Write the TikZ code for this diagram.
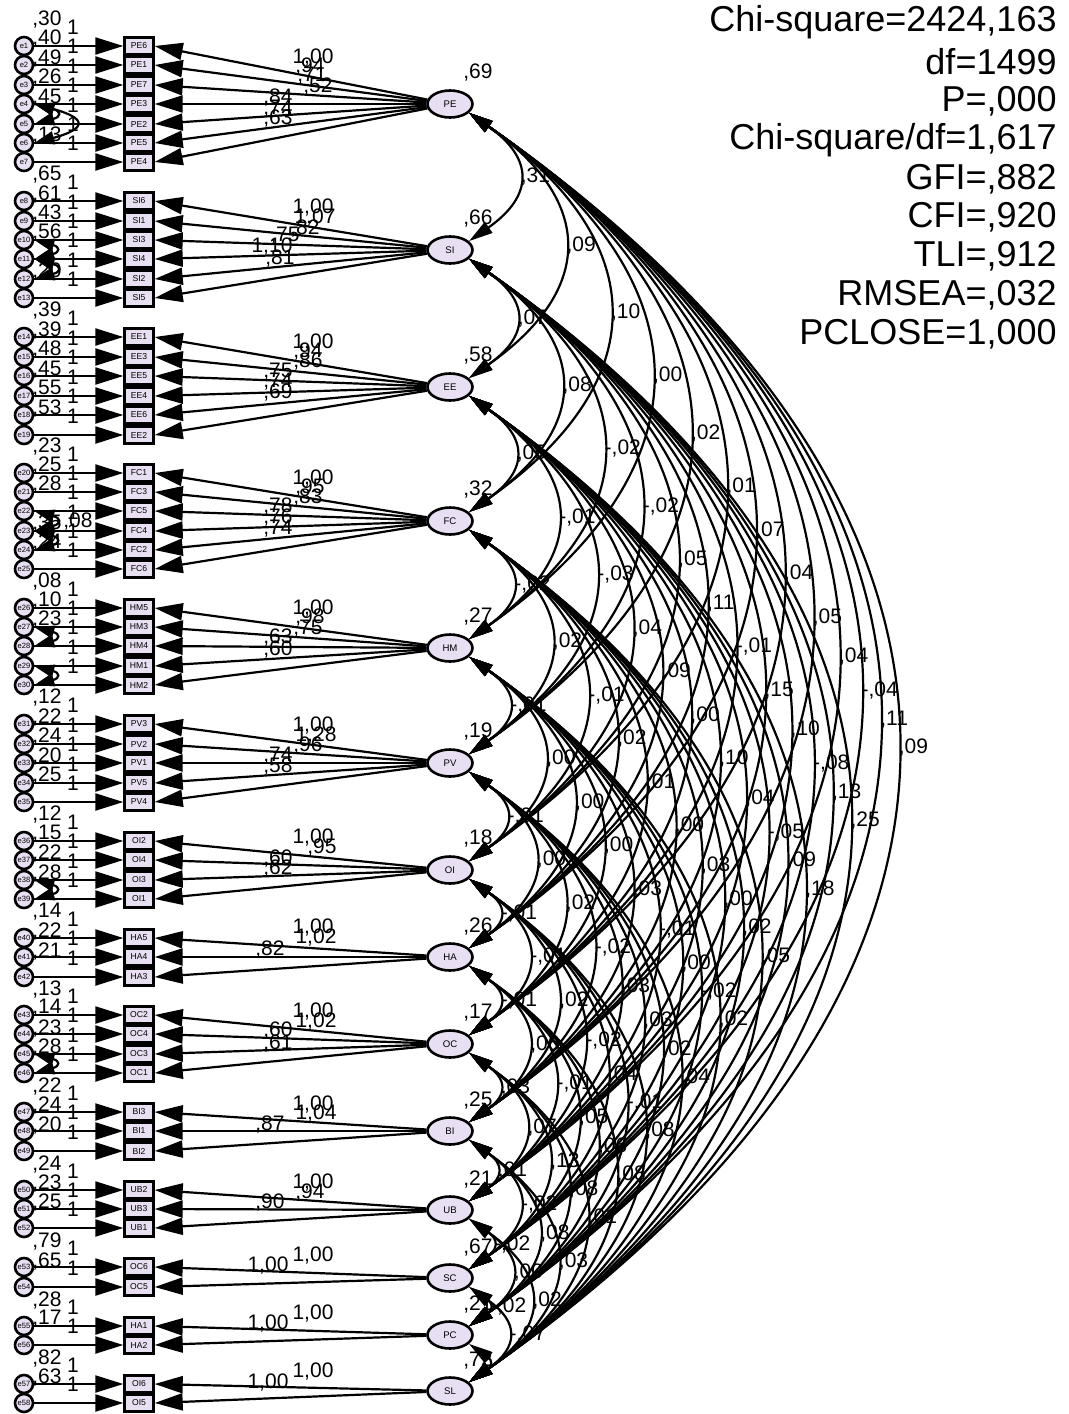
\documentclass[tikz,border=0pt]{standalone}
\usepackage{fontspec}
\setmainfont{Liberation Sans}
\usetikzlibrary{arrows.meta,shapes.geometric}
\definecolor{lav}{RGB}{232,224,242}
\tikzset{
  errc/.style={circle, draw, line width=1.3pt, fill=lav, minimum size=9pt, inner sep=0pt, font=\fontsize{3.8}{4}\selectfont},
  indb/.style={rectangle, draw, line width=1.2pt, fill=lav, minimum width=14.5pt, minimum height=8.5pt, inner sep=0pt, font=\fontsize{4.3}{5}\selectfont},
  lat/.style={ellipse, draw, line width=1.3pt, fill=lav, minimum width=22.5pt, minimum height=13.5pt, inner sep=0pt, font=\fontsize{4.8}{5}\selectfont},
  num/.style={font=\fontsize{10.5}{11}\selectfont, inner sep=0pt},
  stat/.style={font=\fontsize{18}{19}\selectfont, inner sep=0pt, anchor=east},
  arr/.style={line width=1.1pt, -{Triangle[length=14pt,width=8.5pt]}},
  cov/.style={line width=1.1pt, {Triangle[length=12pt,width=6.5pt]}-{Triangle[length=12pt,width=6.5pt]}},
  ecov/.style={line width=1.1pt, {Triangle[length=10pt,width=6.5pt]}-{Triangle[length=10pt,width=6.5pt]}},
  covlab/.style={num, pos=0.5, anchor=west, xshift=1pt}
}
\newcommand\mylat[3]{%
  \expandafter\xdef\csname fy#1\endcsname{#2}%
  \node[lat] (#1) at (450,-#2) {#1};
  \node[num] (v#1) at (478,-#2+31) {#3};}
\newcommand\myind[4]{%
  \if\relax\detokenize{#4}\relax\else\node[num] (v#3) at (47,-#1+26) {#4};\fi
  \node[num] (w#3) at (73,-#1+19) {1};
  \node[errc] (e#3) at (24,-#1) {e#3};
  \node[indb] (i#3) at (139,-#1) {#2};
  \draw[arr] (e#3) -- (i#3);}
\newcommand\myload[5]{%
  \draw[arr] (#1) -- (i#2.east);
  \node[num] (l#2) at (#4,-#5) {#3};}
\newcommand\mycov[3]{%
  \pgfmathsetmacro\lss{1.38+30/(\csname fy#2\endcsname-\csname fy#1\endcsname)}%
  \draw[cov] (#1.-25) to[out=-35,in=35,looseness=\lss] node[covlab] (c#1#2) {#3} (#2.25);}
\newcommand\myecov[2]{%
  \draw[ecov] (e#1.east) to[out=-15,in=15,looseness=3.6] (e#2.east);}
\begin{document}
\begin{tikzpicture}[x=0.5pt,y=0.5pt]
\fill[white] (0,0) rectangle (1069,-1414);
\useasboundingbox (0,0) rectangle (1069,-1414);
% stats
\node[stat] (s1) at (1057,-22) {Chi-square=2424,163};
\node[stat] (s2) at (1057,-62) {df=1499};
\node[stat] (s3) at (1057,-101) {P=,000};
\node[stat] (s4) at (1057,-140) {Chi-square/df=1,617};
\node[stat] (s5) at (1057,-179) {GFI=,882};
\node[stat] (s6) at (1057,-217) {CFI=,920};
\node[stat] (s7) at (1057,-256) {TLI=,912};
\node[stat] (s8) at (1057,-295) {RMSEA=,032};
\node[stat] (s9) at (1057,-334) {PCLOSE=1,000};
% latent factors
\mylat{PE}{104}{,69}
\mylat{SI}{250}{,66}
\mylat{EE}{387}{,58}
\mylat{FC}{521}{,32}
\mylat{HM}{648}{,27}
\mylat{PV}{763}{,19}
\mylat{OI}{870}{,18}
\mylat{HA}{957}{,26}
\mylat{OC}{1044}{,17}
\mylat{BI}{1131}{,25}
\mylat{UB}{1210}{,21}
\mylat{SC}{1278}{,67}
\mylat{PC}{1335}{,21}
\mylat{SL}{1391}{,72}
% indicators
\myind{46}{PE6}{1}{,30}
\myind{65}{PE1}{2}{,40}
\myind{85}{PE7}{3}{,49}
\myind{104}{PE3}{4}{,26}
\myind{124}{PE2}{5}{,45}
\myind{143}{PE5}{6}{}
\myind{162}{PE4}{7}{,13}
\myind{201}{SI6}{8}{,65}
\myind{221}{SI1}{9}{,61}
\myind{240}{SI3}{10}{,43}
\myind{259}{SI4}{11}{,56}
\myind{279}{SI2}{12}{}
\myind{298}{SI5}{13}{,20}
\myind{337}{EE1}{14}{,39}
\myind{357}{EE3}{15}{,39}
\myind{376}{EE5}{16}{,48}
\myind{396}{EE4}{17}{,45}
\myind{415}{EE6}{18}{,55}
\myind{435}{EE2}{19}{,53}
\myind{473}{FC1}{20}{,23}
\myind{492}{FC3}{21}{,25}
\myind{511}{FC5}{22}{,28}
\myind{531}{FC4}{23}{}
\myind{550}{FC2}{24}{,35}
\myind{569}{FC6}{25}{,24}
\myind{608}{HM5}{26}{,08}
\myind{627}{HM3}{27}{,10}
\myind{646}{HM4}{28}{,23}
\myind{666}{HM1}{29}{}
\myind{685}{HM2}{30}{}
\myind{724}{PV3}{31}{,12}
\myind{744}{PV2}{32}{,22}
\myind{763}{PV1}{33}{,24}
\myind{783}{PV5}{34}{,20}
\myind{802}{PV4}{35}{,25}
\myind{841}{OI2}{36}{,12}
\myind{860}{OI4}{37}{,15}
\myind{880}{OI3}{38}{,22}
\myind{899}{OI1}{39}{,28}
\myind{938}{HA5}{40}{,14}
\myind{957}{HA4}{41}{,22}
\myind{977}{HA3}{42}{,21}
\myind{1015}{OC2}{43}{,13}
\myind{1034}{OC4}{44}{,14}
\myind{1054}{OC3}{45}{,23}
\myind{1073}{OC1}{46}{,28}
\myind{1112}{BI3}{47}{,22}
\myind{1131}{BI1}{48}{,24}
\myind{1151}{BI2}{49}{,20}
\myind{1190}{UB2}{50}{,24}
\myind{1209}{UB3}{51}{,23}
\myind{1228}{UB1}{52}{,25}
\myind{1267}{OC6}{53}{,79}
\myind{1287}{OC5}{54}{,65}
\myind{1326}{HA1}{55}{,28}
\myind{1345}{HA2}{56}{,17}
\myind{1384}{OI6}{57}{,82}
\myind{1403}{OI5}{58}{,63}
% error covariances
\myecov{4}{5}\myecov{4}{6}
\myecov{10}{11}\myecov{11}{12}
\myecov{22}{23}\myecov{23}{24}
\node[num] (x08) at (78,-522) {,08};
\myecov{27}{28}\myecov{29}{30}
\myecov{38}{39}
\myecov{45}{46}
% loadings
\myload{PE}{1}{1,00}{313}{58}
\myload{PE}{2}{,94}{310}{67}
\myload{PE}{3}{,71}{312}{76}
\myload{PE}{4}{,52}{318}{87}
\myload{PE}{5}{,84}{278}{98}
\myload{PE}{6}{,74}{278}{109}
\myload{PE}{7}{,63}{278}{119}
\myload{SI}{8}{1,00}{313}{208}
\myload{SI}{9}{1,07}{315}{218}
\myload{SI}{10}{,82}{305}{229}
\myload{SI}{11}{,75}{285}{236}
\myload{SI}{12}{1,10}{272}{247}
\myload{SI}{13}{,81}{280}{259}
\myload{EE}{14}{1,00}{313}{343}
\myload{EE}{15}{,94}{308}{352}
\myload{EE}{16}{,86}{308}{362}
\myload{EE}{17}{,75}{278}{372}
\myload{EE}{18}{,74}{278}{382}
\myload{EE}{19}{,69}{278}{393}
\myload{FC}{20}{1,00}{313}{479}
\myload{FC}{21}{,95}{310}{488}
\myload{FC}{22}{,83}{308}{498}
\myload{FC}{23}{,78}{278}{507}
\myload{FC}{24}{,76}{278}{518}
\myload{FC}{25}{,74}{278}{529}
\myload{HM}{26}{1,00}{313}{609}
\myload{HM}{27}{,98}{310}{618}
\myload{HM}{28}{,75}{308}{629}
\myload{HM}{29}{,63}{278}{638}
\myload{HM}{30}{,60}{278}{650}
\myload{PV}{31}{1,00}{313}{726}
\myload{PV}{32}{1,28}{316}{736}
\myload{PV}{33}{,96}{308}{746}
\myload{PV}{34}{,74}{278}{756}
\myload{PV}{35}{,58}{278}{767}
\myload{OI}{36}{1,00}{313}{838}
\myload{OI}{37}{,95}{322}{848}
\myload{OI}{38}{,60}{278}{858}
\myload{OI}{39}{,62}{278}{869}
\myload{HA}{40}{1,00}{313}{928}
\myload{HA}{41}{1,02}{316}{937}
\myload{HA}{42}{,82}{270}{949}
\myload{OC}{43}{1,00}{313}{1011}
\myload{OC}{44}{1,02}{316}{1021}
\myload{OC}{45}{,60}{278}{1030}
\myload{OC}{46}{,61}{278}{1043}
\myload{BI}{47}{1,00}{313}{1104}
\myload{BI}{48}{1,04}{316}{1113}
\myload{BI}{49}{,87}{270}{1124}
\myload{UB}{50}{1,00}{313}{1182}
\myload{UB}{51}{,94}{310}{1192}
\myload{UB}{52}{,90}{270}{1202}
\myload{SC}{53}{1,00}{313}{1255}
\myload{SC}{54}{1,00}{268}{1265}
\myload{PC}{55}{1,00}{313}{1313}
\myload{PC}{56}{1,00}{268}{1323}
\myload{SL}{57}{1,00}{313}{1371}
\myload{SL}{58}{1,00}{268}{1382}
% covariances
\mycov{PE}{SI}{,31}\mycov{PE}{EE}{,09}\mycov{PE}{FC}{,10}\mycov{PE}{HM}{,00}
\mycov{PE}{PV}{,02}\mycov{PE}{OI}{,01}\mycov{PE}{HA}{,07}\mycov{PE}{OC}{,04}
\mycov{PE}{BI}{,05}\mycov{PE}{UB}{,04}\mycov{PE}{SC}{-,04}\mycov{PE}{PC}{,11}
\mycov{PE}{SL}{,09}
\mycov{SI}{EE}{,07}\mycov{SI}{FC}{,08}\mycov{SI}{HM}{-,02}\mycov{SI}{PV}{-,02}
\mycov{SI}{OI}{,05}\mycov{SI}{HA}{,11}\mycov{SI}{OC}{-,01}\mycov{SI}{BI}{,15}
\mycov{SI}{UB}{,10}\mycov{SI}{SC}{-,08}\mycov{SI}{PC}{,13}\mycov{SI}{SL}{,25}
\mycov{EE}{FC}{,05}\mycov{EE}{HM}{-,01}\mycov{EE}{PV}{-,03}\mycov{EE}{OI}{,04}
\mycov{EE}{HA}{,09}\mycov{EE}{OC}{,00}\mycov{EE}{BI}{,10}\mycov{EE}{UB}{,04}
\mycov{EE}{SC}{-,05}\mycov{EE}{PC}{,09}\mycov{EE}{SL}{,18}
\mycov{FC}{HM}{-,02}\mycov{FC}{PV}{,02}\mycov{FC}{OI}{-,01}\mycov{FC}{HA}{,02}
\mycov{FC}{OC}{,01}\mycov{FC}{BI}{,00}\mycov{FC}{UB}{,03}\mycov{FC}{SC}{,00}
\mycov{FC}{PC}{,02}\mycov{FC}{SL}{,05}
\mycov{HM}{PV}{-,01}\mycov{HM}{OI}{,00}\mycov{HM}{HA}{,00}\mycov{HM}{OC}{,00}
\mycov{HM}{BI}{,03}\mycov{HM}{UB}{-,01}\mycov{HM}{SC}{,00}\mycov{HM}{PC}{-,02}
\mycov{HM}{SL}{,02}
\mycov{PV}{OI}{-,01}\mycov{PV}{HA}{,00}\mycov{PV}{OC}{,02}\mycov{PV}{BI}{-,02}
\mycov{PV}{UB}{,03}\mycov{PV}{SC}{,03}\mycov{PV}{PC}{,02}\mycov{PV}{SL}{,04}
\mycov{OI}{HA}{-,01}\mycov{OI}{OC}{-,01}\mycov{OI}{BI}{,02}\mycov{OI}{UB}{-,02}
\mycov{OI}{SC}{,04}\mycov{OI}{PC}{-,01}\mycov{OI}{SL}{,08}
\mycov{HA}{OC}{-,01}\mycov{HA}{BI}{,06}\mycov{HA}{UB}{-,01}\mycov{HA}{SC}{,05}
\mycov{HA}{PC}{,06}\mycov{HA}{SL}{,08}
\mycov{OC}{BI}{,03}\mycov{OC}{UB}{,07}\mycov{OC}{SC}{,13}\mycov{OC}{PC}{,08}
\mycov{OC}{SL}{,01}
\mycov{BI}{UB}{,01}\mycov{BI}{SC}{-,02}\mycov{BI}{PC}{,08}\mycov{BI}{SL}{,03}
\mycov{UB}{SC}{-,02}\mycov{UB}{PC}{,00}\mycov{UB}{SL}{,02}
\mycov{SC}{PC}{-,02}\mycov{SC}{SL}{-,07}
\draw[cov] (PC.-25) to[out=-35,in=35,looseness=1.9] (SL.25);
\end{tikzpicture}
\end{document}
